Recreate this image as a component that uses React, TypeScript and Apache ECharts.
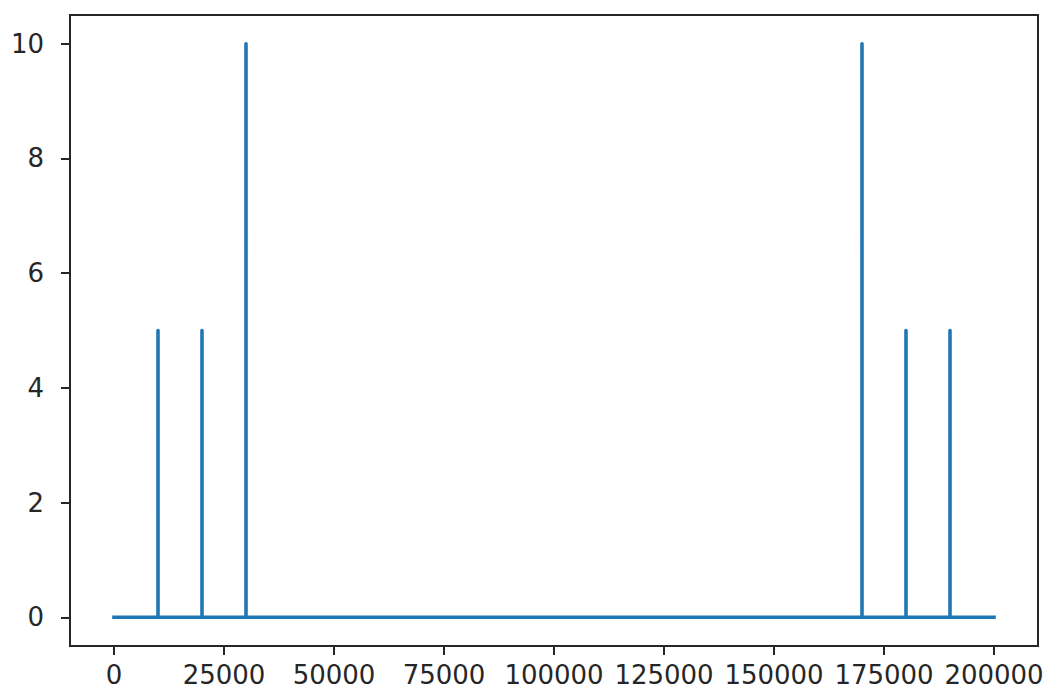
import * as echarts from 'echarts'
import React, { useEffect, useRef } from 'react'

// signal: zero everywhere except six one-sample spikes
const xValues = [0, 9999, 10000, 10001, 19999, 20000, 20001, 29999, 30000, 30001, 169999, 170000, 170001, 179999, 180000, 180001, 189999, 190000, 190001, 200000]
const yValues = [0, 0, 5, 0, 0, 5, 0, 0, 10, 0, 0, 10, 0, 0, 5, 0, 0, 5, 0, 0]

const xTicks = [0, 25000, 50000, 75000, 100000, 125000, 150000, 175000, 200000]
const yTicks = [0, 2, 4, 6, 8, 10]

const lineColor = '#1f77b4'
const inkColor = '#262626'

export default function App() {
  const chartRef = useRef<HTMLDivElement>(null)

  useEffect(() => {
    document.body.style.margin = '0'
    const chartInstance = echarts.init(chartRef.current, null, { renderer: 'svg' })

    const data = xValues.map((x, i) => [x, yValues[i]])

    const axisText = {
      color: inkColor,
      fontFamily: 'DejaVu Sans',
      fontSize: 26,
    }

    const option = {
      animation: false,
      grid: {
        left: 70,
        right: 15,
        top: 15,
        bottom: 50,
        show: true,
        borderColor: inkColor,
        borderWidth: 2,
        backgroundColor: '#fff',
      },
      xAxis: {
        type: 'value',
        min: -10000,
        max: 210000,
        axisLine: { show: false, onZero: false },
        splitLine: { show: false },
        axisTick: {
          show: true,
          length: 9,
          lineStyle: { color: inkColor, width: 2 },
          customValues: xTicks,
        },
        axisLabel: {
          ...axisText,
          margin: 16,
          customValues: xTicks,
          formatter: (v: number) => String(v),
        },
      },
      yAxis: {
        type: 'value',
        min: -0.5,
        max: 10.5,
        axisLine: { show: false, onZero: false },
        splitLine: { show: false },
        axisTick: {
          show: true,
          length: 9,
          lineStyle: { color: inkColor, width: 2 },
          customValues: yTicks,
        },
        axisLabel: {
          ...axisText,
          margin: 26,
          customValues: yTicks,
          formatter: (v: number) => String(v),
        },
      },
      series: [
        {
          type: 'line',
          data,
          showSymbol: false,
          lineStyle: {
            color: lineColor,
            width: 3.6,
            cap: 'square',
            join: 'round',
          },
        },
      ],
    }

    chartInstance.setOption(option)

    return () => {
      chartInstance.dispose()
    }
  }, [])

  return <div ref={chartRef} style={{ width: '1053px', height: '696px' }} />
}
